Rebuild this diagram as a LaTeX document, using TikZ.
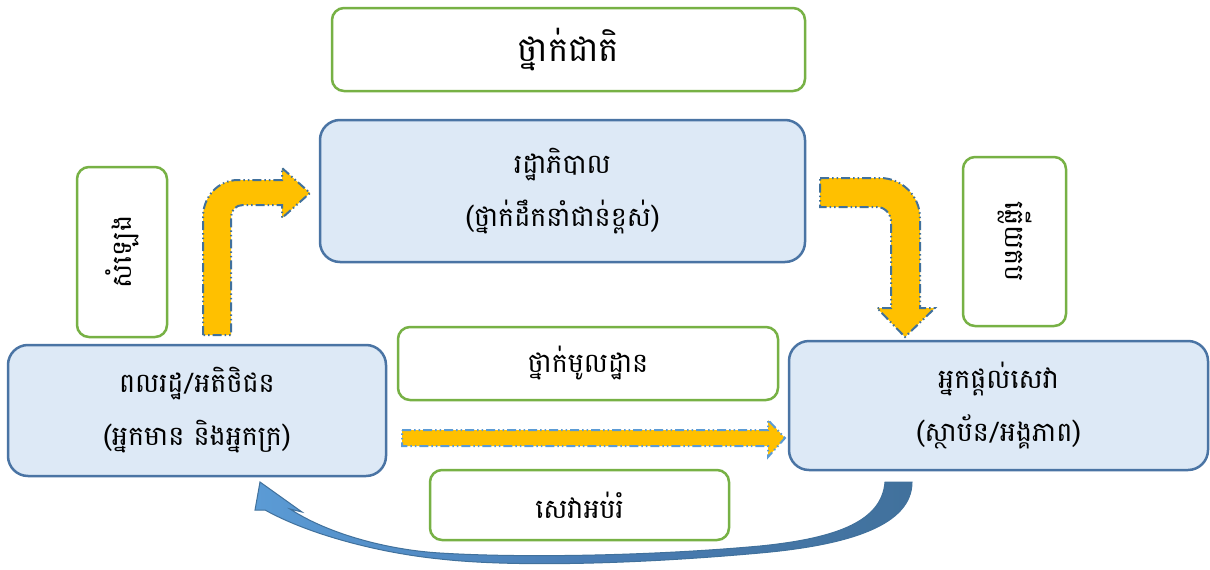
\documentclass[tikz,border=0pt]{standalone}
\usepackage{fontspec}
\newfontfamily\kh[Script=Khmer]{Battambang}
\definecolor{gbord}{HTML}{77B145}
\definecolor{bbord}{HTML}{4A74A4}
\definecolor{bfill}{HTML}{DDE9F6}
\definecolor{yarrow}{HTML}{FFC000}
\definecolor{adash}{HTML}{41719C}
\definecolor{adashb}{HTML}{5B9BD5}
\definecolor{cdark}{HTML}{41719C}
\definecolor{cmid}{HTML}{4A7DB5}
\definecolor{clight}{HTML}{5B9BD5}
\begin{document}
\begin{tikzpicture}[x=1pt,y=-1pt,
  greenbox/.style={draw=gbord, line width=2.5pt, rounded corners=12pt, fill=white, inner sep=0pt, align=center},
  bluebox/.style={draw=bbord, line width=2.5pt, rounded corners=20pt, fill=bfill, inner sep=0pt, align=center},
  bigtxt/.style={font=\kh\fontsize{34}{40}\selectfont},
  boxtxt/.style={font=\kh\fontsize{27}{53}\selectfont},
  yarr/.style={fill=yarrow, draw=adash, line width=2pt, dash pattern=on 9pt off 3pt on 1.5pt off 3pt on 1.5pt off 3pt},
  yarrb/.style={yarr, draw=adashb}
]
\fill[white] (0,0) rectangle (1210,570);
\useasboundingbox (0,0) rectangle (1210,570);

\node[greenbox, bigtxt, minimum width=473pt, minimum height=83pt] (nat) at (568.5,49.5) {ថ្នាក់ជាតិ};
\node[bluebox, boxtxt, minimum width=485pt, minimum height=142pt] (gov) at (562.5,191) {រដ្ឋាភិបាល\\(ថ្នាក់ដឹកនាំជាន់ខ្ពស់)};
\node[greenbox, boxtxt, rotate=90, minimum width=170pt, minimum height=90pt] (voice) at (122,252) {សំឡេង};
\node[greenbox, boxtxt, rotate=-90, minimum width=169pt, minimum height=103pt] (resp) at (1014.5,241.5) {ឆ្លើយតប};
\node[bluebox, boxtxt, minimum width=378pt, minimum height=131pt] (cit) at (197,410.5) {ពលរដ្ឋ/អតិថិជន\\(អ្នកមាន និងអ្នកក្រ)};
\node[greenbox, boxtxt, minimum width=380pt, minimum height=73pt] (local) at (588,363.5) {ថ្នាក់មូលដ្ឋាន};
\node[bluebox, boxtxt, minimum width=419pt, minimum height=129pt] (prov) at (998.5,405.5) {អ្នកផ្តល់សេវា\\(ស្ថាប័ន/អង្គភាព)};
\node[greenbox, boxtxt, minimum width=299pt, minimum height=70pt] (edu) at (579.5,505) {សេវាអប់រំ};

% citizen -> government
\draw[yarr] (203,335) -- (203,217) .. controls (203,197) and (218,180) .. (238,180) -- (282,180) -- (282,168) -- (310,193) -- (282,218) -- (282,205) -- (243,205) .. controls (236,205) and (231,210) .. (231,217) -- (231,335) -- cycle;
% government -> provider
\draw[yarr] (820,178) -- (880,178) .. controls (902,178) and (920,196) .. (920,218) -- (920,308) -- (935,308) -- (905,337) -- (877,308) -- (891,308) -- (891,222) .. controls (891,214) and (885,207) .. (877,207) -- (820,207) -- cycle;
% citizen -> provider
\draw[yarrb] (402,430) -- (768,430) -- (768,420) -- (785,438) -- (768,457) -- (768,446) -- (402,446) -- cycle;
% provider -> citizen (curved)
\shade[left color=clight, right color=cdark, middle color=cmid, draw=cdark, line width=1pt]
  (912,482) .. controls (912,525) and (850,545) .. (760,553)
  .. controls (650,563) and (520,568) .. (440,559)
  .. controls (380,553) and (310,535) .. (265,510)
  -- (255,510) -- (260,482) -- (302,512) -- (290,509)
  .. controls (330,535) and (390,550) .. (440,553)
  .. controls (520,558) and (650,556) .. (760,546)
  .. controls (840,538) and (882,520) .. (885,482) -- cycle;
\end{tikzpicture}
\end{document}
